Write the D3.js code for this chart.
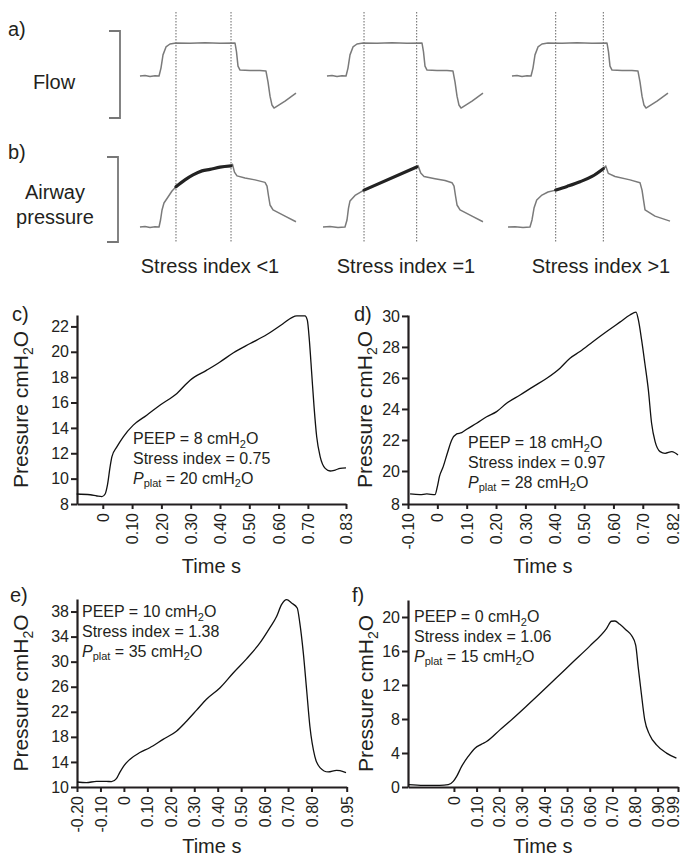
<!DOCTYPE html>
<html><head><meta charset="utf-8">
<script src="https://cdn.jsdelivr.net/npm/d3@7/dist/d3.min.js"></script>
<style>
body{margin:0;background:#fff;}
text{font-family:"Liberation Sans",Arial,sans-serif;fill:#231f20;}
</style></head>
<body>
<svg id="chart" width="683" height="860"></svg>
<script>
// ---------- Panels a/b (schematic waveforms) ----------
const flowTime  = [-0.267,-0.2,-0.133,-0.067,-0.013,0.013,0.04,0.08,0.133,0.213,0.4,0.6,0.8,1.0,1.02,1.04,1.067,1.2,1.333,1.413,1.44,1.467,1.493,1.52,1.667,1.813];
const flowValue = [0,0.015,-0.015,0.01,0,0.24,0.64,0.88,0.97,1.0,0.99,1.01,0.99,1.0,0.73,0.30,0.18,0.17,0.17,0.15,-0.18,-0.61,-0.88,-0.97,-0.76,-0.52];

const p1Time  = [-0.267,-0.2,-0.133,-0.067,-0.013,0.007,0.027,0.053,0.107,0.16,0.213,0.333,0.44,0.56,0.667,0.8,0.947,0.967,0.993,1.027,1.133,1.267,1.4,1.427,1.447,1.467,1.507,1.667,1.813];
const p1Value = [0,0.16,-0.16,0.06,0,2.26,5.48,7.74,9.68,11.6,13.0,15.2,16.8,18.1,18.6,19.3,19.7,20.2,17.7,16.5,15.8,15.2,14.4,13.2,10.0,7.1,5.5,3.5,1.7];
const p2Time  = [-0.32,-0.227,-0.12,-0.027,0,0.02,0.04,0.107,0.227,0.929,0.947,0.983,1.027,1.173,1.307,1.4,1.427,1.447,1.467,1.507,1.667,1.813];
const p2Value = [0,0.16,-0.16,0,2.26,6.1,8.4,10.2,11.9,19.35,19.8,17.4,16.3,15.6,15.0,14.3,13.2,10.0,7.1,5.5,3.5,1.7];
const p3Time  = [-0.32,-0.227,-0.12,-0.027,0,0.027,0.063,0.133,0.213,0.316,0.467,0.64,0.8,0.951,0.983,1.017,1.107,1.307,1.44,1.467,1.487,1.507,1.64,1.84];
const p3Value = [0,0.06,-0.2,0,2.26,6.1,8.7,10.3,11.3,11.9,13.1,14.6,16.3,18.8,19.7,17.3,16.3,15.2,14.3,11.9,8.7,5.5,3.5,1.9];
const windows = [[0.213,0.947],[0.227,0.929],[0.316,0.951]];
const stressLabels = ["Stress index <1","Stress index =1","Stress index >1"];

// ---------- Panel c ----------
const cTime  = [-0.089,-0.043,-0.02,-0.003,0.008,0.016,0.025,0.031,0.048,0.07,0.104,0.15,0.196,0.253,0.298,0.355,0.4,0.446,0.503,0.56,0.616,0.645,0.662,0.69,0.698,0.705,0.713,0.721,0.73,0.742,0.759,0.776,0.793,0.81,0.83];
const cPress = [8.79,8.73,8.63,8.58,8.79,9.5,10.94,11.72,12.5,13.3,14.22,15.0,15.8,16.72,17.76,18.55,19.2,19.92,20.65,21.36,22.23,22.7,22.83,22.83,22.49,20.9,18.29,15.66,13.3,11.72,10.81,10.6,10.68,10.81,10.85];
const cXTicks = [0,0.1,0.2,0.3,0.4,0.5,0.6,0.7,0.83];
const cXLabels = ["0","0.10","0.20","0.30","0.40","0.50","0.60","0.70","0.83"];
const cYTicks = [8,10,12,14,16,18,20,22];
const cYLabels = ["8","10","12","14","16","18","20","22"];
const cNotes = ["8","0.75","20"];

// ---------- Panel d ----------
const dTime  = [-0.093,-0.059,-0.036,-0.008,0.0,0.007,0.02,0.034,0.049,0.066,0.083,0.1,0.134,0.168,0.202,0.236,0.282,0.327,0.373,0.418,0.452,0.486,0.531,0.577,0.622,0.656,0.677,0.685,0.696,0.707,0.719,0.73,0.742,0.759,0.776,0.799,0.82];
const dPress = [18.52,18.47,18.52,18.47,18.99,19.63,20.28,21.14,22.0,22.39,22.47,22.69,23.08,23.5,23.83,24.37,24.9,25.44,25.98,26.63,27.27,27.7,28.35,28.99,29.6,30.06,30.24,29.74,28.45,26.95,25.23,23.08,21.89,21.25,21.14,21.25,21.03];
const dXTicks = [-0.1,0,0.1,0.2,0.3,0.4,0.5,0.6,0.7,0.82];
const dXLabels = ["-0.10","0","0.10","0.20","0.30","0.40","0.50","0.60","0.70","0.82"];
const dYTicks = [17.87,20,22,24,26,28,30];
const dYLabels = ["8","20","22","24","26","28","30"];
const dNotes = ["18","0.97","28"];

// ---------- Panel e ----------
const eTime  = [-0.2,-0.16,-0.117,-0.075,-0.053,-0.032,-0.018,-0.001,0.025,0.068,0.11,0.167,0.224,0.267,0.31,0.352,0.409,0.466,0.523,0.58,0.622,0.651,0.672,0.694,0.715,0.739,0.75,0.765,0.779,0.793,0.814,0.836,0.871,0.907,0.921,0.947];
const ePress = [10.8,10.7,10.9,10.9,10.85,11.34,12.3,13.35,14.4,15.5,16.27,17.6,18.9,20.5,22.26,24.0,25.8,28.2,30.45,33.0,35.4,37.2,39.1,39.9,39.36,38.57,36.2,31.4,25.56,19.7,14.9,13.1,12.4,12.66,12.6,12.3];
const eXTicks = [-0.2,-0.1,0,0.1,0.2,0.3,0.4,0.5,0.6,0.7,0.8,0.95];
const eXLabels = ["-0.20","-0.10","0","0.10","0.20","0.30","0.40","0.50","0.60","0.70","0.80","0.95"];
const eYTicks = [10,14,18,22,26,30,34,38];
const eYLabels = ["10","14","18","22","26","30","34","38"];
const eNotes = ["10","1.38","35"];

// ---------- Panel f ----------
const fTime  = [-0.2,-0.135,-0.062,-0.025,-0.003,0.012,0.034,0.063,0.093,0.122,0.144,0.203,0.262,0.321,0.38,0.453,0.527,0.6,0.674,0.696,0.711,0.733,0.762,0.784,0.803,0.814,0.828,0.843,0.865,0.895,0.939,0.983];
const fPress = [0.27,0.19,0.19,0.27,0.66,1.25,2.42,3.59,4.57,5.04,5.35,6.72,8.09,9.53,11.0,12.85,14.73,16.57,18.64,19.5,19.53,19.14,18.44,17.85,16.68,14.14,11.0,7.89,6.13,4.96,3.99,3.4];
const fXTicks = [0,0.1,0.2,0.3,0.4,0.5,0.6,0.7,0.8,0.9,0.99];
const fXLabels = ["0","0.10","0.20","0.30","0.40","0.50","0.60","0.70","0.80","0.90","0.99"];
const fYTicks = [0,4,8,12,16,20];
const fYLabels = ["0","4","8","12","16","20"];
const fNotes = ["0","1.06","15"];

// ---------- Layout ----------
const svg = d3.select("#chart");
const FONT = '"Liberation Sans",Arial,sans-serif';

function rich(textSel, parts, size, subSize, subDy) {
  let cur = 0;
  parts.forEach(p => {
    const target = p.sub ? subDy : 0;
    const ts = textSel.append("tspan").text(p.t)
      .attr("font-size", p.sub ? subSize : size)
      .attr("dy", target - cur);
    if (p.it) ts.attr("font-style", "italic");
    cur = target;
  });
}

// Top schematic
const traceX0 = [160, 347, 532];
const pressSets = [[p1Time,p1Value],[p2Time,p2Value],[p3Time,p3Value]];
const flowY = d3.scaleLinear().domain([0,1]).range([76,43]);
const pressY = d3.scaleLinear().domain([0,20]).range([227,165]);
const stressCx = [210, 406, 601];

svg.append("text").attr("x",8).attr("y",36).attr("font-size",20).text("a)");
svg.append("text").attr("x",54).attr("y",89).attr("font-size",20).attr("text-anchor","middle").text("Flow");
svg.append("text").attr("x",8).attr("y",159).attr("font-size",20).attr("text-anchor","start").text("b)");
svg.append("text").attr("x",55).attr("y",199).attr("font-size",20).attr("text-anchor","middle").text("Airway");
svg.append("text").attr("x",55).attr("y",224).attr("font-size",20).attr("text-anchor","middle").text("pressure");

function bracket(x, y0, y1) {
  svg.append("path").attr("d", `M${x-11},${y0}H${x}V${y1}H${x-11}`)
    .attr("fill","none").attr("stroke","#777").attr("stroke-width",1.8);
}
bracket(120, 31, 118);
bracket(118, 157, 242);

traceX0.forEach((x0, i) => {
  const xs = d3.scaleLinear().domain([0,1]).range([x0, x0+75]);
  const w = windows[i];
  w.forEach(tv => {
    svg.append("line").attr("x1", xs(tv)).attr("x2", xs(tv)).attr("y1", 12).attr("y2", 243)
      .attr("stroke","#555").attr("stroke-width",0.9).attr("stroke-dasharray","1.5,1.5");
  });
  const flowLine = d3.line().x((d,k)=>xs(flowTime[k])).y((d,k)=>flowY(flowValue[k]));
  svg.append("path").attr("d", flowLine(flowTime)).attr("fill","none")
    .attr("stroke","#7a7a7a").attr("stroke-width",1.5).attr("stroke-linejoin","round");
  const [pt, pv] = pressSets[i];
  const pl = d3.line().x((d,k)=>xs(pt[k])).y((d,k)=>pressY(pv[k]));
  svg.append("path").attr("d", pl(pt)).attr("fill","none")
    .attr("stroke","#7a7a7a").attr("stroke-width",1.5).attr("stroke-linejoin","round");
  const idx = d3.range(pt.length).filter(k => pt[k] >= w[0]-1e-9 && pt[k] <= w[1]+1e-9);
  const hl = d3.line().curve(d3.curveMonotoneX).x(k=>xs(pt[k])).y(k=>pressY(pv[k]));
  svg.append("path").attr("d", hl(idx)).attr("fill","none")
    .attr("stroke","#222").attr("stroke-width",3.2).attr("stroke-linecap","round");
  svg.append("text").attr("x", stressCx[i]).attr("y", 273).attr("font-size",20)
    .attr("text-anchor","middle").text(stressLabels[i]);
});

// Pressure panels
const panels = [
  {lab:"c)", time:cTime, press:cPress, xT:cXTicks, xL:cXLabels, yT:cYTicks, yL:cYLabels, notes:cNotes,
   xd:[-0.088,0.83], xr:[77,346], yd:[8,22.9], yr:[504,315], titleX:28, labX:12, labY:321, noteX:133, noteY:443.5, timeY:573},
  {lab:"d)", time:dTime, press:dPress, xT:dXTicks, xL:dXLabels, yT:dYTicks, yL:dYLabels, notes:dNotes,
   xd:[-0.10,0.82], xr:[408,678], yd:[17.87,30.06], yr:[504,315], titleX:372, labX:354, labY:321, noteX:468, noteY:448, timeY:573},
  {lab:"e)", time:eTime, press:ePress, xT:eXTicks, xL:eXLabels, yT:eYTicks, yL:eYLabels, notes:eNotes,
   xd:[-0.20,0.95], xr:[77,346.7], yd:[10,40], yr:[787,599], titleX:28, labX:10, labY:602, noteX:82, noteY:616.5, timeY:853},
  {lab:"f)", time:fTime, press:fPress, xT:fXTicks, xL:fXLabels, yT:fYTicks, yL:fYLabels, notes:fNotes,
   xd:[-0.203,0.99], xr:[408,678], yd:[0,22], yr:[787,600], titleX:373, labX:352, labY:602, noteX:414, noteY:622, timeY:853}
];

panels.forEach(p => {
  const x = d3.scaleLinear().domain(p.xd).range(p.xr);
  const y = d3.scaleLinear().domain(p.yd).range(p.yr);
  const g = svg.append("g");

  const xa = g.append("g").attr("transform", `translate(0,${p.yr[0]})`)
    .call(d3.axisBottom(x).tickValues(p.xT).tickFormat((d,i)=>p.xL[i]).tickSize(5).tickSizeOuter(0));
  xa.attr("font-family",FONT);
  xa.select(".domain").attr("stroke","#231f20").attr("stroke-width",2.2);
  xa.selectAll(".tick line").attr("stroke","#231f20").attr("stroke-width",2);
  xa.selectAll(".tick text").attr("transform","rotate(-90)").attr("x",-9)
    .attr("y",(d)=> x(d) > 675 ? -5 : 0)
    .attr("dy","0.35em").attr("text-anchor","end").attr("font-size",16)
    .attr("font-family",FONT).attr("fill","#231f20");

  const ya = g.append("g").attr("transform", `translate(${p.xr[0]},0)`)
    .call(d3.axisLeft(y).tickValues(p.yT).tickFormat((d,i)=>p.yL[i]).tickSize(6).tickSizeOuter(0));
  ya.attr("font-family",FONT);
  ya.select(".domain").attr("stroke","#231f20").attr("stroke-width",2.2);
  ya.selectAll(".tick line").attr("stroke","#231f20").attr("stroke-width",2);
  ya.selectAll(".tick text").attr("x",-8).attr("font-size",16)
    .attr("font-family",FONT).attr("fill","#231f20");

  const line = d3.line().curve(d3.curveMonotoneX).x((d,i)=>x(p.time[i])).y((d,i)=>y(p.press[i]));
  g.append("path").attr("d", line(p.time)).attr("fill","none")
    .attr("stroke","#111").attr("stroke-width",1.3).attr("stroke-linejoin","round");

  const cy = (p.yr[0]+p.yr[1])/2;
  const yt = g.append("text").attr("transform", `translate(${p.titleX},${cy}) rotate(-90)`)
    .attr("text-anchor","middle").attr("font-size",21);
  rich(yt, [{t:"Pressure cmH"},{t:"2",sub:true},{t:"O"}], 21, 14, 5);

  g.append("text").attr("x",(p.xr[0]+p.xr[1])/2).attr("y",p.timeY).attr("text-anchor","middle")
    .attr("font-size",20).text("Time s");

  g.append("text").attr("x",p.labX).attr("y",p.labY).attr("font-size",20).text(p.lab);

  const n1 = g.append("text").attr("x",p.noteX).attr("y",p.noteY).attr("font-size",16);
  rich(n1, [{t:`PEEP = ${p.notes[0]} cmH`},{t:"2",sub:true},{t:"O"}], 16, 11, 4);
  g.append("text").attr("x",p.noteX).attr("y",p.noteY+20).attr("font-size",16)
    .text(`Stress index = ${p.notes[1]}`);
  const n3 = g.append("text").attr("x",p.noteX).attr("y",p.noteY+40).attr("font-size",16);
  rich(n3, [{t:"P",it:true},{t:"plat",sub:true},{t:` = ${p.notes[2]} cmH`},{t:"2",sub:true},{t:"O"}], 16, 11, 3);
});
</script>
</body></html>
